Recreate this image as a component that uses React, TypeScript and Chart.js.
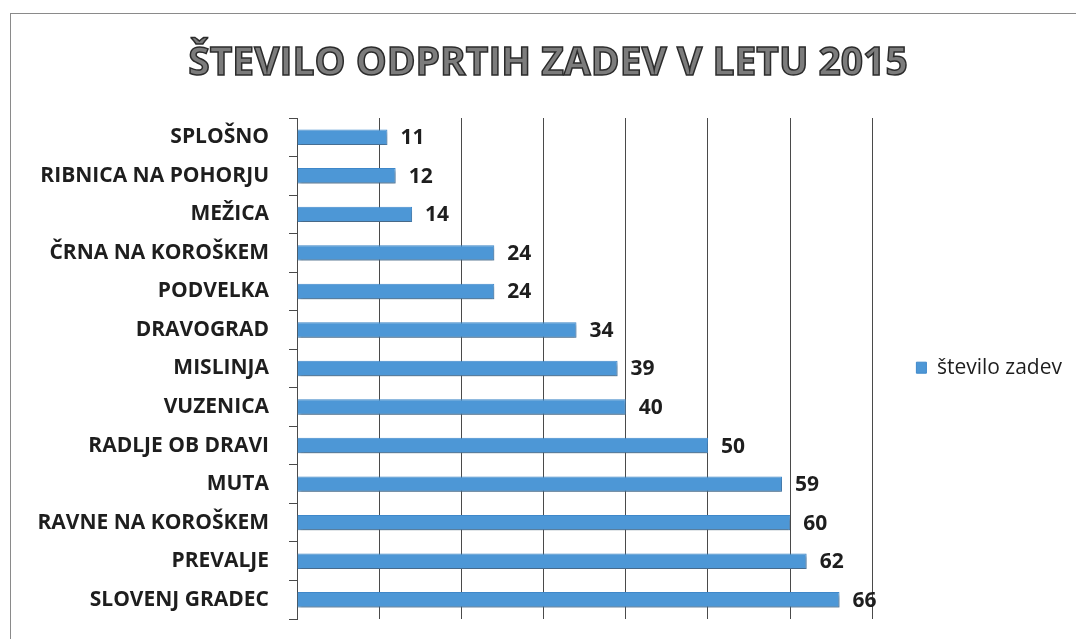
import React, { useEffect, useRef } from "react";
import { Chart, registerables } from "chart.js";

Chart.register(...registerables);

const categories: string[] = [
  "SPLOŠNO",
  "RIBNICA NA POHORJU",
  "MEŽICA",
  "ČRNA NA KOROŠKEM",
  "PODVELKA",
  "DRAVOGRAD",
  "MISLINJA",
  "VUZENICA",
  "RADLJE OB DRAVI",
  "MUTA",
  "RAVNE NA KOROŠKEM",
  "PREVALJE",
  "SLOVENJ GRADEC",
];
const values: number[] = [11, 12, 14, 24, 24, 34, 39, 40, 50, 59, 60, 62, 66];
const seriesName = "število zadev";
const titleText = "ŠTEVILO ODPRTIH ZADEV V LETU 2015";
const axisMax = 70;
const axisStep = 10;

const FONT = "'Open Sans', 'Noto Sans', sans-serif";
const TITLE_SIZE = 39;
const TITLE_PAD_TOP = 40;

const titleStrokePlugin = {
  id: "titleStroke",
  afterDraw(chart: any) {
    const tb = chart.titleBlock;
    if (!tb) return;
    const ctx = chart.ctx;
    ctx.save();
    ctx.font = `bold ${TITLE_SIZE}px ${FONT}`;
    ctx.textAlign = "center";
    ctx.textBaseline = "middle";
    ctx.lineWidth = 1.5;
    ctx.strokeStyle = "#2b2b2b";
    const y = tb.top + (TITLE_SIZE * 1.2) / 2 + TITLE_PAD_TOP;
    ctx.strokeText(titleText, (tb.left + tb.right) / 2, y);
    ctx.restore();
  },
};

const shadowPlugin = {
  id: "barShadow",
  beforeDatasetDraw(chart: any) {
    const ctx = chart.ctx;
    ctx.save();
    ctx.shadowColor = "rgba(80,80,80,0.55)";
    ctx.shadowBlur = 3;
    ctx.shadowOffsetX = 1;
    ctx.shadowOffsetY = 3;
  },
  afterDatasetDraw(chart: any) {
    chart.ctx.restore();
  },
};

const valueLabelPlugin = {
  id: "valueLabels",
  afterDatasetsDraw(chart: any) {
    const ctx = chart.ctx;
    const meta = chart.getDatasetMeta(0);
    ctx.save();
    ctx.font = `bold 21px ${FONT}`;
    ctx.fillStyle = "#1e1e1e";
    ctx.textAlign = "left";
    ctx.textBaseline = "middle";
    meta.data.forEach((bar: any, i: number) => {
      ctx.fillText(String(values[i]), bar.x + 13, bar.y + 1);
    });
    ctx.restore();
  },
};

export default function App() {
  const ref = useRef<HTMLCanvasElement | null>(null);

  useEffect(() => {
    if (!ref.current) return;
    const chart = new Chart(ref.current, {
      type: "bar",
      data: {
        labels: categories,
        datasets: [
          {
            label: seriesName,
            data: values,
            backgroundColor: "#4d97d6",
            borderColor: "#3f88ca",
            borderWidth: 1,
            categoryPercentage: 0.4,
            barPercentage: 1,
          },
        ],
      },
      options: {
        indexAxis: "y",
        responsive: false,
        animation: false,
        layout: { padding: { left: 24, right: 4, top: 0, bottom: 20 } },
        scales: {
          x: {
            min: 0,
            max: axisMax,
            ticks: { display: false, stepSize: axisStep },
            grid: { color: "#4a4a4a", lineWidth: 1, drawTicks: false },
            border: { display: false },
            afterFit: (s: any) => {
              s.height = 0;
              s.paddingLeft = 0;
              s.paddingRight = 0;
            },
          },
          y: {
            ticks: {
              color: "#1e1e1e",
              font: { family: FONT, size: 21, weight: "bold" },
              padding: 20,
            },
            grid: {
              drawOnChartArea: false,
              drawTicks: true,
              tickLength: 8,
              color: "#4a4a4a",
              offset: true,
            },
            border: { display: true, color: "#4a4a4a", width: 1 },
            afterFit: (s: any) => {
              s.width = 273;
              s.paddingTop = 0;
              s.paddingBottom = 0;
            },
          },
        },
        plugins: {
          title: {
            display: true,
            text: titleText,
            color: "#7c7c7c",
            font: { family: FONT, size: TITLE_SIZE, weight: "bold" },
            padding: { top: TITLE_PAD_TOP, bottom: 118 - TITLE_PAD_TOP - TITLE_SIZE * 1.2 },
          },
          legend: {
            display: true,
            position: "right",
            title: {
              display: true,
              text: "",
              font: { size: 12 },
              padding: { top: 102, bottom: 0 },
            },
            labels: {
              boxWidth: 10,
              boxHeight: 11,
              padding: 44,
              color: "#1e1e1e",
              font: { family: FONT, size: 21 },
            },
          },
          tooltip: { enabled: false },
        },
      },
      plugins: [shadowPlugin, valueLabelPlugin, titleStrokePlugin],
    });
    return () => chart.destroy();
  }, []);

  return (
    <div style={{ position: "fixed", left: 0, top: 0, width: 1076, height: 639, background: "#fff", overflow: "hidden" }}>
      <div
        style={{
          position: "absolute",
          left: 10,
          top: 13,
          width: 1080,
          height: 640,
          borderTop: "1px solid #8a8a8a",
          borderLeft: "1px solid #8a8a8a",
        }}
      />
      <canvas ref={ref} width={1076} height={639} style={{ position: "absolute", left: 0, top: 0, display: "block" }} />
    </div>
  );
}
